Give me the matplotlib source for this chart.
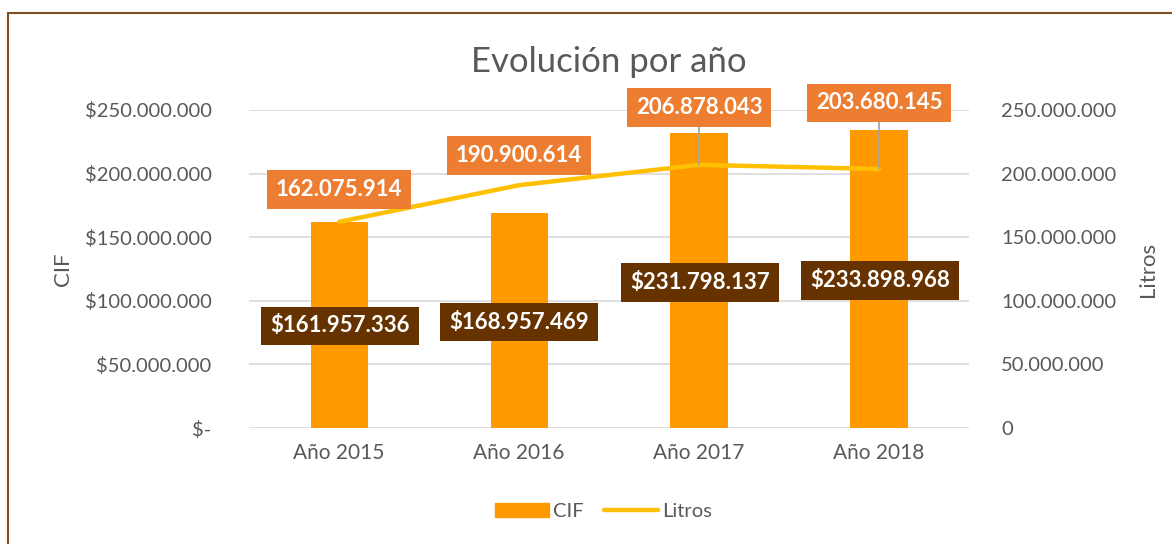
import matplotlib.pyplot as plt
from matplotlib.ticker import FuncFormatter, MultipleLocator
from matplotlib.patches import Patch
from matplotlib.lines import Line2D

# Datos
anios = ["Año 2015", "Año 2016", "Año 2017", "Año 2018"]
cif = [161957336, 168957469, 231798137, 233898968]
litros = [162075914, 190900614, 206878043, 203680145]

plt.rcParams['font.family'] = ['Lato', 'DejaVu Sans']

color_barra = "#FF9900"
color_linea = "#FFC000"
color_gris = "#595959"


def miles(v):
    return f"{v:,.0f}".replace(",", ".")


def fmt_cif(v, pos):
    if v == 0:
        return "$-"
    return "$" + miles(v)


fig = plt.figure(figsize=(11.72, 5.44), dpi=100)
ax = fig.add_axes([0.2125, 0.2132, 0.6143, 0.5846])
ax2 = ax.twinx()

x = range(len(anios))
ax.bar(x, cif, width=0.317, color=color_barra, zorder=2)
ax2.plot(x, litros, color=color_linea, lw=3.2, solid_capstyle="round", zorder=3)

for a in (ax, ax2):
    a.set_ylim(0, 250_000_000)
    a.yaxis.set_major_locator(MultipleLocator(50_000_000))
    for s in a.spines.values():
        s.set_visible(False)
    a.tick_params(length=0, labelsize=14.5, labelcolor=color_gris)
ax.tick_params(axis="y", pad=27)
ax2.tick_params(axis="y", pad=23)
ax.set_xlim(-0.5, 3.5)
ax.grid(axis="y", color="#D9D9D9", lw=1.2, zorder=0)
ax.set_axisbelow(True)
ax.set_xticks(list(x))
ax.set_xticklabels(anios, fontsize=15)
ax.tick_params(axis="x", pad=11)
ax.yaxis.set_major_formatter(FuncFormatter(fmt_cif))
ax2.yaxis.set_major_formatter(FuncFormatter(lambda v, p: miles(v)))
ax.set_ylabel("CIF", fontsize=16, color=color_gris, labelpad=8)
ax2.set_ylabel("Litros", fontsize=16, color=color_gris, labelpad=16)
ax.set_title("Evolución por año", fontsize=25, color=color_gris, pad=27)

# Etiquetas de la línea
off_linea = [(0, 32), (0, 30), (0, 57), (0, 66)]
for i, (v, off) in enumerate(zip(litros, off_linea)):
    arrow = None
    if i >= 2:
        arrow = dict(arrowstyle="-", color="#A6A6A6", lw=1.3, shrinkA=0, shrinkB=0)
    ax2.annotate(miles(v), (i, v), xytext=off, textcoords="offset pixels",
                 ha="center", va="center", fontsize=16, fontweight="bold", color="white",
                 bbox=dict(boxstyle="square,pad=0.4", fc="#ED7D31", ec="none"),
                 arrowprops=arrow, zorder=5)

# Etiquetas de las barras
off_barra = [(1, -104), (0, -109), (1, -149), (1, -150)]
for i, (v, off) in enumerate(zip(cif, off_barra)):
    ax2.annotate("$" + miles(v), (i, v), xytext=off, textcoords="offset pixels",
                 ha="center", va="center", fontsize=16, fontweight="bold", color="white",
                 bbox=dict(boxstyle="square,pad=0.4", fc="#663300", ec="none"), zorder=5)

handles = [Patch(color=color_barra, label="CIF"),
           Line2D([0], [0], color=color_linea, lw=3.2, solid_capstyle="round", label="Litros")]
fig.legend(handles=handles, loc="center", bbox_to_anchor=(0.515, 0.06), ncol=2, frameon=False,
           fontsize=14.5, labelcolor=color_gris, handlelength=2.7, columnspacing=1.0, handletextpad=0.2)

# Borde del gráfico
fig.add_artist(Line2D([0.0072, 0.0072], [0, 0.976], color="#7F4F1F", lw=1.5, transform=fig.transFigure))
fig.add_artist(Line2D([0.0072, 1], [0.976, 0.976], color="#7F4F1F", lw=1.5, transform=fig.transFigure))

fig.savefig("out.png", dpi=100)
